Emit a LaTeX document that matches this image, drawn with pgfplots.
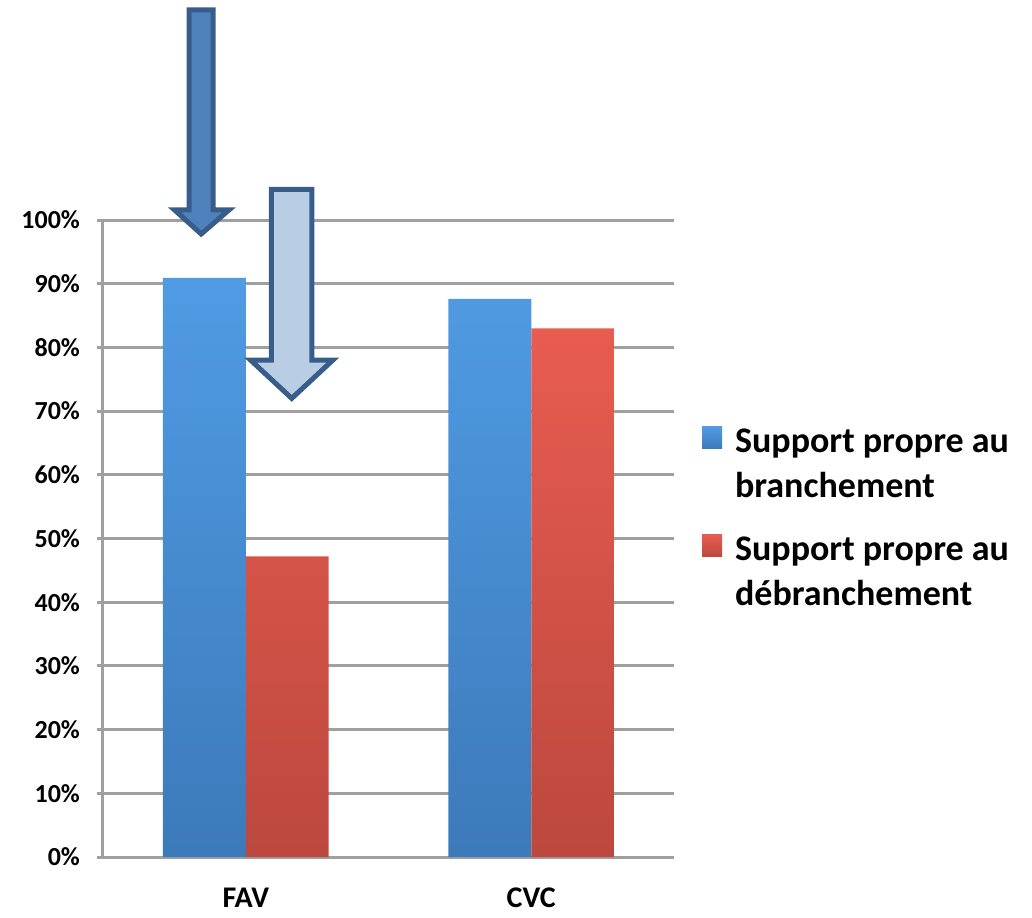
\documentclass[border=0pt]{standalone}
\usepackage{pgfplots}
\pgfplotsset{compat=1.18}
\usepackage{fontspec}
\setmainfont{Carlito}
\definecolor{gridgray}{RGB}{160,160,160}
\definecolor{blueT}{RGB}{80,155,228}
\definecolor{blueB}{RGB}{60,122,186}
\definecolor{redT}{RGB}{232,92,80}
\definecolor{redB}{RGB}{188,72,62}
\definecolor{arrowdark}{RGB}{79,129,189}
\definecolor{arrowlight}{RGB}{185,205,229}
\definecolor{arrowborder}{RGB}{56,93,138}
\begin{document}
\begin{tikzpicture}
\begin{axis}[
  at={(0,0)}, anchor=south west,
  scale only axis, width=285.5pt, height=318.5pt,
  xmin=-0.5, xmax=1.5, ymin=0, ymax=100,
  clip=false,
  axis x line*=bottom, axis y line*=left,
  axis line style={gridgray, line width=1.5pt},
  ymajorgrids, grid style={gridgray, line width=1.5pt},
  ytick={0,10,...,100},
  yticklabel={\pgfmathprintnumber{\tick}\%},
  xtick={0,1}, xticklabels={FAV,CVC},
  /pgf/number format/assume math mode=true,
  yticklabel style={font=\fontsize{13}{15}\selectfont\bfseries, xshift=-5pt},
  xticklabel style={font=\fontsize{15}{18}\selectfont\bfseries, yshift=-9pt},
  x tick style={draw=none},
  y tick style={gridgray, line width=1.5pt},
  tick align=outside, major tick length=3pt,
  legend style={at={(1.038,0.685)}, anchor=north west, draw=none, fill=none,
    font=\fontsize{18}{22.5}\selectfont\bfseries, nodes={align=left}, row sep=14pt},
  legend cell align=left,
  legend image code/.code={\fill[#1] (0pt,8pt) rectangle (10pt,19pt); \path (14.5pt,8pt);},
]
\addplot[ybar, bar width=0.29, bar shift=-0.145, draw=none, top color=blueT, bottom color=blueB]
  coordinates {(0,90.9) (1,87.6)};
\addlegendentry{Support propre au\\branchement}
\addplot[ybar, bar width=0.29, bar shift=0.145, draw=none, top color=redT, bottom color=redB]
  coordinates {(0,47.2) (1,83.0)};
\addlegendentry{Support propre au\\débranchement}
\addplot[fill=arrowlight, draw=arrowborder, line width=2.5pt, forget plot]
  coordinates {(0.0900,104.8) (0.2320,104.8) (0.2320,78.0) (0.3050,78.0) (0.1611,72.0) (0.0170,78.0) (0.0900,78.0)} --cycle;
\addplot[fill=arrowdark, draw=arrowborder, line width=2.5pt, forget plot]
  coordinates {(-0.1980,133.0) (-0.1140,133.0) (-0.1140,101.6) (-0.0580,101.6) (-0.1560,97.8) (-0.2500,101.6) (-0.1980,101.6)} --cycle;
\end{axis}
\pgfresetboundingbox
\path (-51.5pt,-30pt) rectangle (464.5pt,428.5pt);
\end{tikzpicture}
\end{document}
